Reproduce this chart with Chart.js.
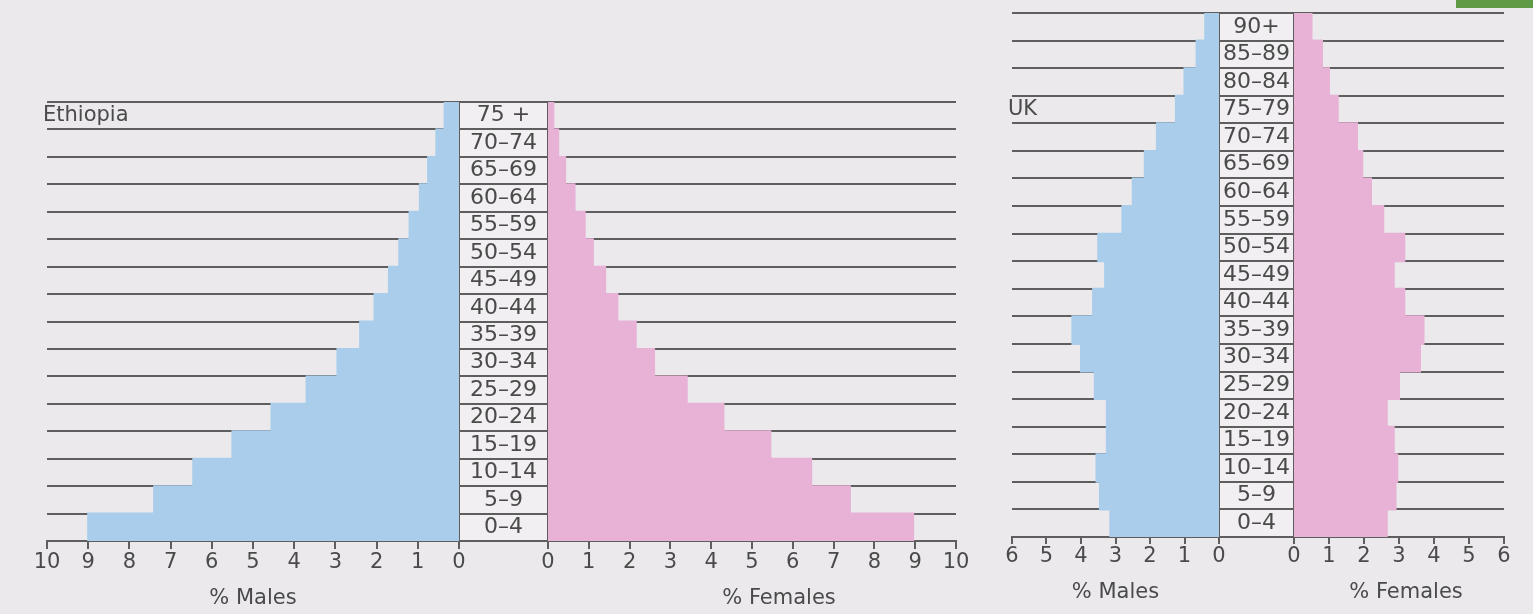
<!DOCTYPE html>
<html>
<head>
<meta charset="utf-8">
<script src="https://cdn.jsdelivr.net/npm/chart.js@4.4.1/dist/chart.umd.min.js"></script>
<style>
  html, body { margin: 0; padding: 0; background: #ebe9ec; }
  body { width: 1533px; height: 614px; position: relative; overflow: hidden; }
  .half { position: absolute; top: 0; height: 614px; }
  .corner { position: absolute; left: 1456px; top: 0; width: 77px; height: 8px; background: #5f9b45; }
</style>
</head>
<body>
<div class="corner"></div>
<div class="half" style="left:0;width:548px"><canvas id="ethMale"></canvas></div>
<div class="half" style="left:520px;width:470px"><canvas id="ethFemale"></canvas></div>
<div class="half" style="left:990px;width:304px"><canvas id="ukMale"></canvas></div>
<div class="half" style="left:1270px;width:263px"><canvas id="ukFemale"></canvas></div>
<script>
/* data, youngest group first (y axes are reversed so 0-4 sits at the bottom) */
const ethAges = ["0–4", "5–9", "10–14", "15–19", "20–24", "25–29", "30–34", "35–39",
  "40–44", "45–49", "50–54", "55–59", "60–64", "65–69", "70–74", "75 +"];
const ethMales = [9.0, 7.4, 6.45, 5.5, 4.55, 3.7, 2.95, 2.4, 2.05, 1.7, 1.45, 1.2, 0.95, 0.75, 0.55, 0.35];
const ethFemales = [8.95, 7.4, 6.45, 5.45, 4.3, 3.4, 2.6, 2.15, 1.7, 1.4, 1.1, 0.9, 0.65, 0.42, 0.25, 0.13];
const ethMax = 10;

const ukAges = ["0–4", "5–9", "10–14", "15–19", "20–24", "25–29", "30–34", "35–39", "40–44",
  "45–49", "50–54", "55–59", "60–64", "65–69", "70–74", "75–79", "80–84", "85–89", "90+"];
const ukMales = [3.15, 3.45, 3.55, 3.25, 3.25, 3.6, 4.0, 4.25, 3.65, 3.3, 3.5, 2.8, 2.5, 2.15, 1.8, 1.25, 1.0, 0.65, 0.4];
const ukFemales = [2.65, 2.9, 2.95, 2.85, 2.65, 3.0, 3.6, 3.7, 3.15, 2.85, 3.15, 2.55, 2.2, 1.95, 1.8, 1.25, 1.0, 0.8, 0.5];
const ukMax = 6;

/* look */
const FAMILY = '"DejaVu Sans", sans-serif';
const INK = "#4a4a4a";
const LINE = "#5e5e5e";
const BLUE = "#a9cdea";
const PINK = "#e8b1d6";
const CELL = "#f1eff1";
const TICK_FONT = { family: FAMILY, size: 21 };
const AGE_FONT = { family: FAMILY, size: 22 };

function widest(labels){
  const c = document.createElement("canvas").getContext("2d");
  c.font = AGE_FONT.size + "px " + FAMILY;
  return Math.max(...labels.map(l => c.measureText(l).width));
}

/* axis captions and the country name */
const captions = {
  id: "captions",
  afterDraw(chart, args, o){
    const { ctx } = chart;
    const x = chart.scales.x, y = chart.scales.y;
    ctx.save();
    ctx.font = "21px " + FAMILY;
    ctx.fillStyle = INK;
    ctx.textBaseline = "middle";
    ctx.textAlign = "center";
    ctx.fillText(o.text, (x.left + x.right) / 2 + (o.shift || 0), o.y);
    if(o.country){
      ctx.textAlign = "left";
      ctx.fillText(o.country, x.left - 4, y.getPixelForValue(y.getLabels().indexOf(o.row)));
    }
    ctx.restore();
  }
};

/* light fill behind the age label column */
const labelCells = {
  id: "labelCells",
  beforeDraw(chart){
    const y = chart.scales.y;
    if(y.options.position !== "right") return;
    chart.ctx.save();
    chart.ctx.fillStyle = CELL;
    chart.ctx.fillRect(y.left, y.top, y.right - y.left, y.bottom - y.top);
    chart.ctx.restore();
  }
};

function half(id, cfg){
  const male = cfg.side === "male";
  const colW = cfg.colW;
  return new Chart(document.getElementById(id), {
    type: "bar",
    data: {
      labels: cfg.ages,
      datasets: [{
        data: cfg.values,
        backgroundColor: male ? BLUE : PINK,
        borderWidth: 0,
        inflateAmount: 1,
        barPercentage: 1,
        categoryPercentage: 1
      }]
    },
    plugins: [captions, labelCells],
    options: {
      indexAxis: "y",
      responsive: true,
      maintainAspectRatio: false,
      animation: false,
      layout: { padding: { left: cfg.padL, right: cfg.padR, top: cfg.top, bottom: 0 } },
      plugins: {
        legend: { display: false },
        tooltip: { enabled: false },
        captions: { text: cfg.title, y: cfg.titleY, shift: cfg.shift, country: cfg.country, row: cfg.row }
      },
      scales: {
        x: {
          type: "linear",
          min: 0,
          max: cfg.max,
          reverse: male,
          ticks: { stepSize: 1, font: TICK_FONT, color: INK, padding: cfg.tickPad, maxRotation: 0 },
          grid: { drawOnChartArea: false, tickLength: cfg.tickLen, color: LINE, lineWidth: 2 },
          border: { color: LINE, width: 2 },
          afterFit: s => { s.height = cfg.axisH; }
        },
        y: male ? {
          position: "right",
          reverse: true,
          ticks: {
            autoSkip: false,
            crossAlign: "center",
            padding: -(colW / 2) - widest(cfg.ages) / 2,
            font: AGE_FONT,
            color: INK
          },
          grid: { color: LINE, lineWidth: 2, tickLength: colW, offset: true },
          border: { color: LINE, width: 2 },
          afterFit: s => { s.width = colW; }
        } : {
          position: "left",
          reverse: true,
          ticks: { display: false },
          grid: { color: LINE, lineWidth: 2, drawTicks: false, offset: true },
          border: { color: LINE, width: 2 },
          afterFit: s => { s.width = 0; }
        }
      }
    }
  });
}

/* Ethiopia */
half("ethMale", { side: "male", ages: ethAges, values: ethMales, max: ethMax,
  padL: 47, padR: 0, top: 102, axisH: 73, colW: 89, tickLen: 8, tickPad: 1,
  title: "% Males", titleY: 599, country: "Ethiopia", row: "75 +" });
half("ethFemale", { side: "female", ages: ethAges, values: ethFemales, max: ethMax,
  padL: 28, padR: 34, top: 102, axisH: 73, tickLen: 8, tickPad: 1,
  title: "% Females", titleY: 599, shift: 27 });

/* UK */
half("ukMale", { side: "male", ages: ukAges, values: ukMales, max: ukMax,
  padL: 22, padR: 0, top: 13, axisH: 77, colW: 75, tickLen: 7, tickPad: 0,
  title: "% Males", titleY: 593, country: "UK", row: "75–79" });
half("ukFemale", { side: "female", ages: ukAges, values: ukFemales, max: ukMax,
  padL: 24, padR: 29, top: 13, axisH: 77, tickLen: 7, tickPad: 0,
  title: "% Females", titleY: 593, shift: 7 });
</script>
</body>
</html>
